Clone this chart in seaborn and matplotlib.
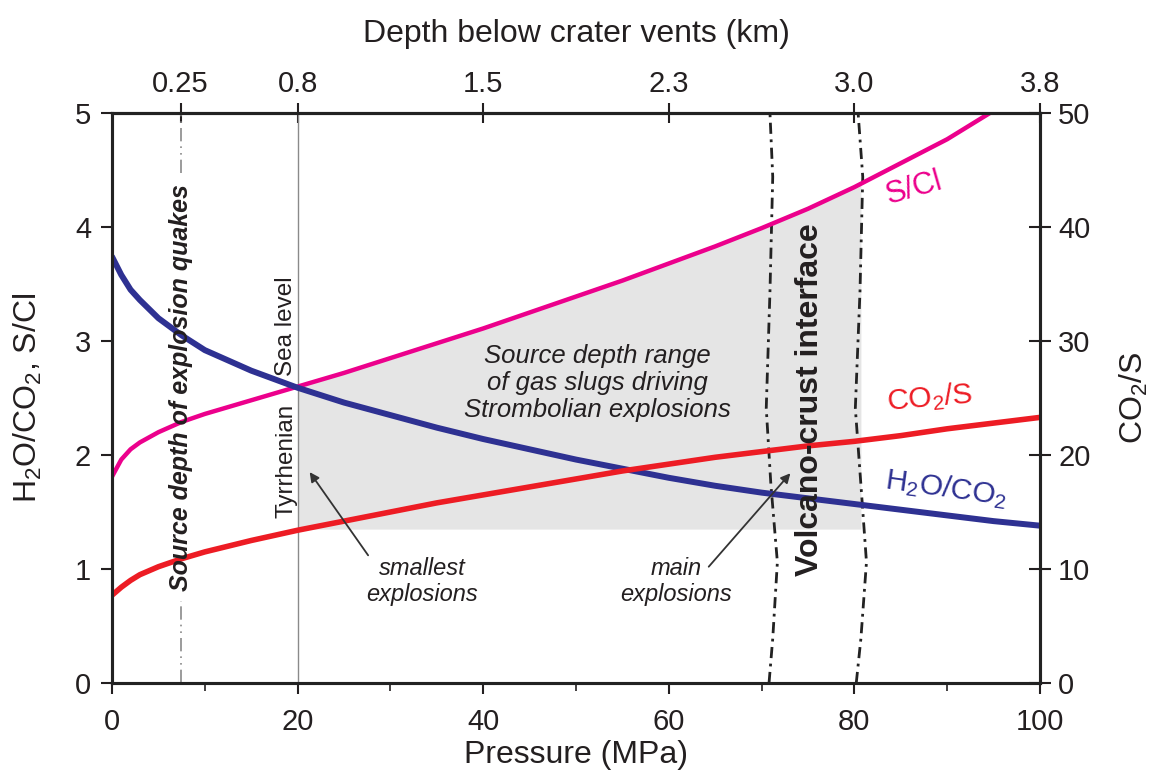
import numpy as np
import matplotlib
matplotlib.use("Agg")
import matplotlib.pyplot as plt
import seaborn as sns

# ---------------- data ----------------
pressure = [0, 1, 2, 3, 5, 7.5, 10, 15, 20, 25, 30, 35, 40, 45, 50, 55,
            60, 65, 70, 75, 80, 85, 90, 95, 100]
h2o_co2 = [3.74, 3.58, 3.45, 3.36, 3.20, 3.05, 2.92, 2.74, 2.59, 2.46, 2.35,
           2.24, 2.14, 2.05, 1.96, 1.88, 1.80, 1.73, 1.67, 1.62, 1.57, 1.52,
           1.47, 1.42, 1.38]
s_cl = [1.81, 1.96, 2.05, 2.11, 2.20, 2.29, 2.36, 2.48, 2.60, 2.72, 2.85,
        2.98, 3.11, 3.25, 3.39, 3.53, 3.68, 3.83, 3.99, 4.16, 4.35, 4.56,
        4.77, 5.02, 5.26]
co2_s = [7.7, 8.4, 9.0, 9.5, 10.2, 10.9, 11.5, 12.5, 13.4, 14.2, 15.0, 15.8,
         16.5, 17.2, 17.9, 18.6, 19.2, 19.8, 20.3, 20.8, 21.2, 21.7, 22.3,
         22.8, 23.3]

x_major = [0, 20, 40, 60, 80, 100]
x_minor = [10, 30, 50, 70, 90]
y_left_ticks = [0, 1, 2, 3, 4, 5]
y_right_ticks = [0, 10, 20, 30, 40, 50]
depth_tick_pressure = [7.4, 20, 40, 60, 80, 100]
depth_labels = ["0.25", "0.8", "1.5", "2.3", "3.0", "3.8"]

# shaded source-depth range
shade_x0, shade_x1, shade_bottom = 20, 80.7, 1.35

# reference lines
quake_x = 7.4
quake_segments = [(0, 0.72), (4.47, 5.0)]
sea_level_x = 20
wave_y = [0, 0.39, 1.06, 1.74, 2.41, 3.43, 4.44, 5.0]
wave_left = [70.8, 71.2, 71.7, 71.0, 70.5, 70.9, 71.2, 70.9]
wave_right = [80.2, 80.7, 81.3, 80.7, 80.1, 80.6, 80.9, 80.4]

BLUE = "#2e3192"
MAG = "#ec008c"
RED = "#ed1c24"
DARK = "#231f20"

# ---------------- style ----------------
sns.set_style("ticks")
plt.rcParams["font.family"] = ["Liberation Sans", "DejaVu Sans"]
plt.rcParams["mathtext.fontset"] = "custom"
plt.rcParams["mathtext.rm"] = "Liberation Sans"
plt.rcParams["mathtext.it"] = "Liberation Sans:italic"
plt.rcParams["mathtext.bf"] = "Liberation Sans:bold"
plt.rcParams["mathtext.default"] = "regular"
plt.rcParams["text.color"] = DARK
plt.rcParams["axes.labelcolor"] = DARK
plt.rcParams["xtick.color"] = DARK
plt.rcParams["ytick.color"] = DARK

fig = plt.figure(figsize=(11.53, 7.74), dpi=100)
ax = fig.add_axes([0.09714, 0.11757, 0.80486, 0.73643])
ax2 = ax.twinx()
T = ax.transData

# shaded area under S/Cl
p = np.array(pressure, dtype=float)
sc = np.array(s_cl, dtype=float)
xs = np.concatenate([[shade_x0], p[(p > shade_x0) & (p < shade_x1)], [shade_x1]])
upper = np.interp(xs, p, sc)
ax.fill_between(xs, shade_bottom, upper, color="#e5e5e5", lw=0, zorder=0)

# reference lines
for (y0, y1) in quake_segments:
    ax.plot([quake_x, quake_x], [y0, y1], color="#8a8a8a", lw=1.2,
            linestyle=(0, (8, 3, 1, 3, 1, 3)), zorder=1, clip_on=False)
ax.plot([sea_level_x, sea_level_x], [0, 5], color="#8a8a8a", lw=1.0, zorder=1)
for wx in (wave_left, wave_right):
    ax.plot(wx, wave_y, color="#222222", lw=2.0,
            linestyle=(0, (4, 2, 1, 2)), zorder=2)

# curves
sns.lineplot(x=pressure, y=s_cl, ax=ax, color=MAG, linewidth=3.2, zorder=3)
sns.lineplot(x=pressure, y=h2o_co2, ax=ax, color=BLUE, linewidth=4.3, zorder=4)
sns.lineplot(x=pressure, y=co2_s, ax=ax2, color=RED, linewidth=4.0, zorder=2)

ax.set_xlim(0, 100)
ax.set_ylim(0, 5)
ax2.set_ylim(0, 50)

# ticks
ax.set_xticks(x_major)
ax.set_xticks(x_minor, minor=True)
ax.set_yticks(y_left_ticks)
ax2.set_yticks(y_right_ticks)
ax.tick_params(axis="x", which="major", direction="out", length=8, width=1.5,
               labelsize=21, pad=10, top=False)
ax.tick_params(axis="x", which="minor", direction="out", length=6, width=1.2,
               top=False)
ax.tick_params(axis="y", direction="out", length=8, width=1.5, labelsize=21,
               pad=7, right=False)
ax2.tick_params(axis="y", direction="inout", length=16, width=1.5,
                labelsize=21, pad=5)

secax = ax.secondary_xaxis("top")
secax.set_xticks(depth_tick_pressure, labels=depth_labels)
secax.tick_params(direction="inout", length=14, width=1.5, labelsize=21, pad=4)
secax.set_xlabel("Depth below crater vents (km)", fontsize=23, labelpad=20)

for a in (ax, ax2):
    for s in a.spines.values():
        s.set_linewidth(2.2)
        s.set_color("#222222")
secax.spines["top"].set_linewidth(2.2)
secax.spines["top"].set_color("#222222")

ax.set_xlabel("Pressure (MPa)", fontsize=23, labelpad=3)
ax.set_ylabel(r"H$_2$O/CO$_2$, S/Cl", fontsize=23, labelpad=22)
ax2.set_ylabel(r"CO$_2$/S", fontsize=23, labelpad=20)

# annotations (drawn on ax2 so they sit above every curve)
ax2.text(quake_x, 2.59, "Source depth of explosion quakes", rotation=90,
         ha="center", va="center", fontsize=18, weight="bold", style="italic",
         transform=T, zorder=6)
ax2.text(18.8, 1.95, "Tyrrhenian", rotation=90, ha="center", va="center",
         fontsize=17.5, transform=T, zorder=6)
ax2.text(18.8, 3.13, "Sea level", rotation=90, ha="center", va="center",
         fontsize=17.5, transform=T, zorder=6)
ax2.text(52.3, 2.63, "Source depth range\nof gas slugs driving\nStrombolian explosions",
         ha="center", va="center", fontsize=18.5, style="italic",
         linespacing=1.15, transform=T, zorder=6)
ax2.text(33.4, 0.89, "smallest\nexplosions", ha="center", va="center",
         fontsize=17, style="italic", linespacing=1.2, transform=T, zorder=6)
ax2.text(60.8, 0.89, "main\nexplosions", ha="center", va="center",
         fontsize=17, style="italic", linespacing=1.2, transform=T, zorder=6)
ax2.text(75.2, 2.49, "Volcano-crust interface", rotation=90, ha="center",
         va="center", fontsize=23, weight="bold", transform=T, zorder=6)
ax2.text(86.4, 4.34, "S/Cl", rotation=16, ha="center", va="center",
         fontsize=22, color=MAG, transform=T, zorder=6)
ax2.text(88.1, 2.50, r"CO$_2$/S", rotation=5, ha="center", va="center",
         fontsize=21.5, color=RED, transform=T, zorder=6)
ax2.text(89.9, 1.71, r"H$_2$O/CO$_2$", rotation=-8, ha="center", va="center",
         fontsize=21.5, color=BLUE, transform=T, zorder=6)

arrow_kw = dict(arrowstyle="-|>", color="#333333", lw=1.3, mutation_scale=14,
                shrinkA=0, shrinkB=0)
ax2.annotate("", xy=(21.3, 1.85), xytext=(27.6, 1.12), xycoords=T,
             textcoords=T, arrowprops=arrow_kw, zorder=6)
ax2.annotate("", xy=(73.1, 1.84), xytext=(64.3, 1.02), xycoords=T,
             textcoords=T, arrowprops=arrow_kw, zorder=6)

fig.savefig("out.png", dpi=100)
